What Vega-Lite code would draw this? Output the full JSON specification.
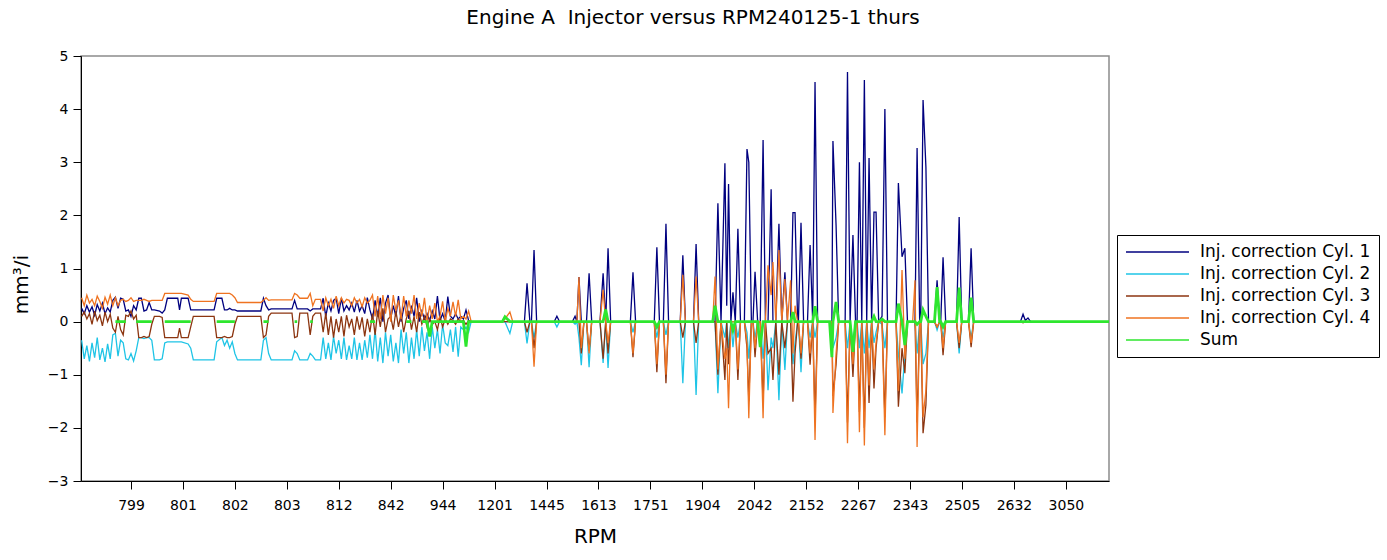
{
  "$schema": "https://vega.github.io/schema/vega-lite/v6.json",
  "width": 1028,
  "height": 425,
  "autosize": {"type": "none"},
  "padding": {"left": 81, "top": 56, "right": 278, "bottom": 79},
  "background": "white",
  "title": {
    "text": "Engine A\u00a0 Injector versus RPM240125-1 thurs",
    "font": "DejaVu Sans",
    "fontSize": 20,
    "fontWeight": "normal",
    "color": "black",
    "anchor": "middle",
    "dx": 98,
    "offset": 21
  },
  "config": {
    "view": {"stroke": "#8c8c8c", "strokeWidth": 1.5},
    "axis": {
      "domainColor": "black",
      "tickColor": "black",
      "labelColor": "black",
      "titleColor": "black",
      "labelFont": "DejaVu Sans",
      "titleFont": "DejaVu Sans",
      "labelFontSize": 14,
      "titleFontSize": 20,
      "titleFontWeight": "normal",
      "grid": false,
      "tickSize": 8
    }
  },
  "data": {
    "values": [
      {"t":1,"a":0.25,"b":-0.35,"c":0.10,"d":0.45,"s":null},
      {"t":2,"a":0.15,"b":-0.70,"c":0.18,"d":0.30,"s":null},
      {"t":3,"a":0.30,"b":-0.45,"c":0.05,"d":0.50,"s":null},
      {"t":4,"a":0.18,"b":-0.75,"c":0.15,"d":0.35,"s":null},
      {"t":5,"a":0.28,"b":-0.40,"c":-0.05,"d":0.42,"s":null},
      {"t":6,"a":0.12,"b":-0.68,"c":0.20,"d":0.30,"s":null},
      {"t":7,"a":0.32,"b":-0.30,"c":0.02,"d":0.48,"s":null},
      {"t":8,"a":0.20,"b":-0.72,"c":0.12,"d":0.38,"s":null},
      {"t":9,"a":0.35,"b":-0.50,"c":-0.08,"d":0.25,"s":null},
      {"t":10,"a":0.15,"b":-0.76,"c":0.18,"d":0.46,"s":null},
      {"t":11,"a":0.26,"b":-0.42,"c":0.00,"d":0.33,"s":null},
      {"t":12,"a":0.18,"b":-0.70,"c":0.14,"d":0.50,"s":null},
      {"t":13,"a":0.40,"b":-0.25,"c":-0.12,"d":0.30,"s":null},
      {"t":14,"a":0.46,"b":-0.22,"c":-0.20,"d":0.45,"s":0},
      {"t":15,"a":0.25,"b":-0.65,"c":0.10,"d":0.30,"s":0},
      {"t":16,"a":0.44,"b":-0.35,"c":-0.15,"d":0.40,"s":0},
      {"t":17,"a":0.42,"b":-0.40,"c":-0.25,"d":0.42,"s":0},
      {"t":18,"a":0.20,"b":-0.70,"c":0.12,"d":0.38,"s":0},
      {"t":19,"a":0.22,"b":-0.72,"c":0.10,"d":0.40,"s":null},
      {"t":20,"a":0.10,"b":-0.60,"c":0.20,"d":0.45,"s":null},
      {"t":21,"a":0.30,"b":-0.74,"c":0.05,"d":0.38,"s":null},
      {"t":22,"a":0.22,"b":-0.55,"c":0.12,"d":0.40,"s":0},
      {"t":23,"a":0.44,"b":-0.30,"c":-0.30,"d":0.40,"s":0},
      {"t":24,"a":0.44,"b":-0.30,"c":-0.30,"d":0.40,"s":0},
      {"t":25,"a":0.20,"b":-0.32,"c":-0.28,"d":0.42,"s":0},
      {"t":26,"a":0.22,"b":-0.30,"c":-0.30,"d":0.40,"s":0},
      {"t":27,"a":0.36,"b":-0.30,"c":-0.28,"d":0.38,"s":0},
      {"t":28,"a":0.22,"b":-0.35,"c":-0.05,"d":0.40,"s":0},
      {"t":29,"a":0.22,"b":-0.72,"c":0.10,"d":0.40,"s":null},
      {"t":31,"a":0.20,"b":-0.72,"c":0.10,"d":0.40,"s":null},
      {"t":32,"a":0.16,"b":-0.70,"c":0.08,"d":0.40,"s":null},
      {"t":33,"a":0.22,"b":-0.40,"c":-0.30,"d":0.53,"s":0},
      {"t":34,"a":0.44,"b":-0.38,"c":-0.30,"d":0.53,"s":0},
      {"t":38,"a":0.44,"b":-0.38,"c":-0.30,"d":0.53,"s":0},
      {"t":38.7,"a":0.22,"b":-0.38,"c":-0.12,"d":0.53,"s":0},
      {"t":39.4,"a":0.44,"b":-0.38,"c":-0.30,"d":0.53,"s":0},
      {"t":42,"a":0.44,"b":-0.42,"c":-0.30,"d":0.50,"s":0},
      {"t":43,"a":0.22,"b":-0.50,"c":-0.10,"d":0.42,"s":0},
      {"t":44,"a":0.22,"b":-0.72,"c":0.10,"d":0.38,"s":null},
      {"t":52,"a":0.22,"b":-0.72,"c":0.10,"d":0.38,"s":null},
      {"t":53,"a":0.44,"b":-0.38,"c":-0.30,"d":0.53,"s":0},
      {"t":55,"a":0.44,"b":-0.30,"c":-0.30,"d":0.53,"s":0},
      {"t":56,"a":0.22,"b":-0.45,"c":-0.28,"d":0.53,"s":0},
      {"t":57,"a":0.22,"b":-0.35,"c":-0.30,"d":0.53,"s":0},
      {"t":58,"a":0.25,"b":-0.50,"c":-0.30,"d":0.53,"s":0},
      {"t":59,"a":0.22,"b":-0.38,"c":-0.28,"d":0.50,"s":0},
      {"t":60,"a":0.22,"b":-0.60,"c":-0.05,"d":0.45,"s":0},
      {"t":61,"a":0.20,"b":-0.72,"c":0.10,"d":0.36,"s":null},
      {"t":70,"a":0.20,"b":-0.72,"c":0.10,"d":0.36,"s":null},
      {"t":71,"a":0.44,"b":-0.35,"c":-0.30,"d":0.40,"s":0},
      {"t":72,"a":0.30,"b":-0.30,"c":-0.25,"d":0.45,"s":0},
      {"t":73,"a":0.22,"b":-0.60,"c":0.10,"d":0.40,"s":0},
      {"t":74,"a":0.24,"b":-0.72,"c":0.16,"d":0.41,"s":null},
      {"t":82,"a":0.24,"b":-0.72,"c":0.16,"d":0.41,"s":null},
      {"t":83,"a":0.40,"b":-0.55,"c":-0.30,"d":0.53,"s":0},
      {"t":84,"a":0.24,"b":-0.60,"c":-0.28,"d":0.50,"s":0},
      {"t":85,"a":0.24,"b":-0.72,"c":0.16,"d":0.44,"s":null},
      {"t":88,"a":0.24,"b":-0.72,"c":0.16,"d":0.44,"s":null},
      {"t":89,"a":0.20,"b":-0.60,"c":-0.25,"d":0.53,"s":0},
      {"t":90,"a":0.24,"b":-0.65,"c":0.10,"d":0.30,"s":0},
      {"t":91,"a":0.24,"b":-0.72,"c":0.16,"d":0.42,"s":null},
      {"t":93,"a":0.24,"b":-0.72,"c":0.16,"d":0.42,"s":null},
      {"t":94,"a":0.44,"b":-0.30,"c":-0.20,"d":0.20,"s":null},
      {"t":95,"a":0.10,"b":-0.70,"c":0.16,"d":0.45,"s":null},
      {"t":96,"a":0.35,"b":-0.40,"c":-0.25,"d":0.30,"s":null},
      {"t":97,"a":0.20,"b":-0.72,"c":0.10,"d":0.42,"s":null},
      {"t":98,"a":0.40,"b":-0.28,"c":-0.30,"d":0.25,"s":null},
      {"t":99,"a":0.44,"b":-0.60,"c":0.05,"d":0.48,"s":null},
      {"t":100,"a":0.15,"b":-0.35,"c":-0.20,"d":0.30,"s":null},
      {"t":101,"a":0.44,"b":-0.70,"c":0.10,"d":0.45,"s":null},
      {"t":102,"a":0.20,"b":-0.30,"c":-0.28,"d":0.35,"s":null},
      {"t":103,"a":0.30,"b":-0.72,"c":0.12,"d":0.42,"s":null},
      {"t":104,"a":0.22,"b":-0.45,"c":-0.10,"d":0.40,"s":null},
      {"t":105,"a":0.35,"b":-0.70,"c":0.05,"d":0.30,"s":null},
      {"t":106,"a":0.18,"b":-0.30,"c":-0.25,"d":0.45,"s":null},
      {"t":107,"a":0.40,"b":-0.72,"c":0.10,"d":0.35,"s":null},
      {"t":108,"a":0.20,"b":-0.40,"c":-0.15,"d":0.42,"s":null},
      {"t":109,"a":0.30,"b":-0.72,"c":0.08,"d":0.28,"s":null},
      {"t":110,"a":0.15,"b":-0.35,"c":-0.28,"d":0.45,"s":null},
      {"t":111,"a":0.45,"b":-0.68,"c":0.05,"d":0.35,"s":null},
      {"t":112,"a":0.22,"b":-0.25,"c":-0.20,"d":0.40,"s":0},
      {"t":113,"a":0.05,"b":-0.70,"c":0.15,"d":0.50,"s":0},
      {"t":114,"a":0.40,"b":-0.15,"c":-0.25,"d":0.10,"s":0},
      {"t":115,"a":0.10,"b":-0.75,"c":0.20,"d":0.48,"s":null},
      {"t":116,"a":0.45,"b":-0.30,"c":-0.10,"d":0.05,"s":null},
      {"t":117,"a":0.00,"b":-0.78,"c":0.25,"d":0.50,"s":null},
      {"t":118,"a":0.35,"b":-0.20,"c":-0.20,"d":0.15,"s":null},
      {"t":119,"a":0.50,"b":-0.65,"c":0.05,"d":0.45,"s":null},
      {"t":120,"a":0.05,"b":-0.25,"c":0.10,"d":0.00,"s":null},
      {"t":121,"a":0.30,"b":-0.75,"c":-0.15,"d":0.50,"s":null},
      {"t":122,"a":0.10,"b":-0.40,"c":0.20,"d":0.20,"s":null},
      {"t":123,"a":0.48,"b":-0.78,"c":-0.10,"d":0.40,"s":null},
      {"t":124,"a":0.00,"b":-0.15,"c":0.15,"d":0.05,"s":null},
      {"t":125,"a":0.25,"b":-0.60,"c":-0.20,"d":0.48,"s":null},
      {"t":126,"a":0.40,"b":-0.20,"c":0.05,"d":0.10,"s":0},
      {"t":127,"a":0.05,"b":-0.78,"c":0.20,"d":0.40,"s":0},
      {"t":128,"a":0.30,"b":-0.30,"c":-0.15,"d":0.15,"s":0},
      {"t":129,"a":0.10,"b":-0.70,"c":0.10,"d":0.50,"s":null},
      {"t":130,"a":0.45,"b":-0.15,"c":-0.20,"d":0.05,"s":null},
      {"t":131,"a":0.00,"b":-0.65,"c":0.18,"d":0.35,"s":null},
      {"t":132,"a":0.20,"b":-0.10,"c":-0.05,"d":0.10,"s":0},
      {"t":133,"a":0.05,"b":-0.55,"c":0.10,"d":0.45,"s":0},
      {"t":134,"a":0.15,"b":-0.20,"c":-0.10,"d":0.00,"s":0},
      {"t":135,"a":0.02,"b":-0.70,"c":0.05,"d":0.30,"s":-0.28},
      {"t":136,"a":0.20,"b":-0.10,"c":-0.05,"d":0.05,"s":0},
      {"t":137,"a":0.05,"b":-0.50,"c":0.00,"d":0.35,"s":0},
      {"t":138,"a":0.48,"b":-0.15,"c":-0.15,"d":0.00,"s":0},
      {"t":139,"a":0.02,"b":-0.60,"c":0.10,"d":0.10,"s":0},
      {"t":140,"a":0.15,"b":-0.05,"c":-0.10,"d":0.38,"s":0},
      {"t":141,"a":0.00,"b":-0.40,"c":0.05,"d":0.00,"s":0},
      {"t":142,"a":0.47,"b":-0.45,"c":-0.05,"d":0.25,"s":0},
      {"t":143,"a":0.10,"b":-0.15,"c":0.05,"d":0.10,"s":0},
      {"t":144,"a":0.05,"b":-0.57,"c":0.02,"d":0.37,"s":0},
      {"t":145,"a":0.15,"b":-0.10,"c":-0.05,"d":0.10,"s":0},
      {"t":146,"a":0.05,"b":-0.66,"c":0.05,"d":0.41,"s":0},
      {"t":147,"a":0.10,"b":-0.10,"c":0.00,"d":0.05,"s":0},
      {"t":148,"a":0.05,"b":-0.15,"c":0.02,"d":0.10,"s":0},
      {"t":149,"a":0.22,"b":-0.10,"c":-0.05,"d":0.05,"s":-0.47},
      {"t":150,"a":0.02,"b":-0.20,"c":0.02,"d":0.20,"s":0},
      {"t":151,"a":0,"b":0,"c":0,"d":0,"s":0},
      {"t":163,"a":0,"b":0,"c":0,"d":0,"s":0},
      {"t":164,"a":0,"b":0,"c":0,"d":0.05,"s":0.09},
      {"t":165.9,"a":0,"b":-0.22,"c":0,"d":0.18,"s":0},
      {"t":167,"a":0,"b":0,"c":0,"d":0,"s":0},
      {"t":171.5,"a":0,"b":0,"c":0,"d":0,"s":0},
      {"t":172.5,"a":0.72,"b":-0.41,"c":-0.2,"d":0,"s":0},
      {"t":173.6,"a":0,"b":0,"c":0,"d":0,"s":0},
      {"t":174.2,"a":0,"b":0,"c":0,"d":0,"s":0},
      {"t":175.2,"a":1.35,"b":-0.3,"c":-0.5,"d":-0.85,"s":0},
      {"t":176.2,"a":0,"b":0,"c":0,"d":0,"s":0},
      {"t":183,"a":0,"b":0,"c":0,"d":0,"s":0},
      {"t":184,"a":0.1,"b":-0.1,"c":0,"d":0,"s":0},
      {"t":185,"a":0,"b":0,"c":0,"d":0,"s":0},
      {"t":190,"a":0,"b":0,"c":0,"d":0,"s":0},
      {"t":191,"a":0.1,"b":-0.05,"c":0,"d":0,"s":0},
      {"t":191.7,"a":0,"b":0,"c":0,"d":0,"s":0},
      {"t":192.5,"a":0.84,"b":-0.3,"c":0,"d":0.84,"s":0},
      {"t":193.4,"a":0,"b":-0.82,"c":-0.6,"d":-0.5,"s":0},
      {"t":194.4,"a":0,"b":0,"c":0,"d":0,"s":0},
      {"t":195.4,"a":0,"b":0,"c":0,"d":0,"s":0},
      {"t":196.4,"a":0.91,"b":-0.86,"c":-0.55,"d":-0.6,"s":0},
      {"t":197.4,"a":0,"b":0,"c":0,"d":0,"s":0},
      {"t":200.6,"a":0,"b":0,"c":0,"d":0,"s":0},
      {"t":201.8,"a":0.91,"b":-0.78,"c":-0.7,"d":0.6,"s":0},
      {"t":202.8,"a":0,"b":0,"c":0,"d":0,"s":0.23},
      {"t":203.7,"a":1.38,"b":-0.87,"c":-0.6,"d":-0.4,"s":0},
      {"t":204.7,"a":0,"b":0,"c":0,"d":0,"s":0},
      {"t":212.3,"a":0,"b":0,"c":0,"d":0,"s":0},
      {"t":213.3,"a":0.93,"b":-0.2,"c":-0.67,"d":-0.6,"s":0},
      {"t":214.3,"a":0,"b":0,"c":0,"d":0,"s":0},
      {"t":221.5,"a":0,"b":0,"c":0,"d":0,"s":0},
      {"t":222.5,"a":1.4,"b":-0.3,"c":-0.95,"d":-0.8,"s":-0.1},
      {"t":223.5,"a":0,"b":0,"c":0,"d":0,"s":0},
      {"t":225,"a":0,"b":0,"c":0,"d":0,"s":0},
      {"t":226,"a":1.84,"b":-0.25,"c":-1.16,"d":-1.0,"s":0},
      {"t":227,"a":0,"b":0,"c":0,"d":0,"s":0},
      {"t":231.5,"a":0,"b":0,"c":0,"d":0,"s":0},
      {"t":232.5,"a":1.25,"b":-1.16,"c":-0.3,"d":0.88,"s":0},
      {"t":233.5,"a":0,"b":0,"c":0,"d":0,"s":0},
      {"t":236.6,"a":0,"b":0,"c":0,"d":0,"s":0},
      {"t":237.6,"a":1.46,"b":-1.38,"c":-0.4,"d":0.85,"s":0},
      {"t":238.6,"a":0,"b":0,"c":0,"d":0,"s":0},
      {"t":244,"a":0,"b":0,"c":0,"d":0,"s":0},
      {"t":244.9,"a":0,"b":0,"c":0,"d":0.85,"s":0.3},
      {"t":246,"a":2.23,"b":-1.35,"c":-1.0,"d":-0.9,"s":0},
      {"t":247.2,"a":0,"b":0,"c":0,"d":0,"s":0},
      {"t":248.7,"a":2.98,"b":-0.3,"c":-1.1,"d":-0.7,"s":0},
      {"t":249.4,"a":0.3,"b":0,"c":0,"d":-0.5,"s":0},
      {"t":250.1,"a":2.59,"b":-0.5,"c":-0.8,"d":-1.63,"s":0},
      {"t":251,"a":0,"b":0,"c":0,"d":0,"s":0},
      {"t":251.8,"a":0.55,"b":-0.48,"c":0,"d":0,"s":-0.16},
      {"t":252.7,"a":0,"b":0,"c":0,"d":0,"s":0},
      {"t":253.7,"a":1.75,"b":-0.3,"c":-1.1,"d":-0.9,"s":0},
      {"t":254.7,"a":0,"b":0,"c":0,"d":0,"s":0},
      {"t":256.2,"a":0,"b":0,"c":0,"d":0,"s":0},
      {"t":257.2,"a":3.25,"b":-0.2,"c":-0.5,"d":-0.4,"s":0},
      {"t":257.9,"a":3.0,"b":-0.7,"c":-1.5,"d":-1.82,"s":0},
      {"t":258.9,"a":0,"b":0,"c":0,"d":0,"s":0},
      {"t":259.5,"a":0,"b":0,"c":0,"d":0,"s":0},
      {"t":260.3,"a":0.94,"b":-0.3,"c":-0.67,"d":-0.5,"s":0},
      {"t":261.3,"a":0,"b":0,"c":0,"d":0,"s":0},
      {"t":262.3,"a":0,"b":0,"c":0,"d":0,"s":-0.48},
      {"t":263.4,"a":3.42,"b":-0.7,"c":-1.5,"d":-1.82,"s":0},
      {"t":264.3,"a":0,"b":0,"c":0,"d":0,"s":0},
      {"t":265.3,"a":0,"b":-1.29,"c":-0.6,"d":1.06,"s":0},
      {"t":266.5,"a":2.49,"b":-0.3,"c":-0.5,"d":0.5,"s":0},
      {"t":267.2,"a":0,"b":-0.5,"c":-1.1,"d":1.12,"s":0},
      {"t":268.3,"a":0,"b":0,"c":0,"d":0,"s":0},
      {"t":269.5,"a":1.84,"b":-1.48,"c":-1.0,"d":1.35,"s":0},
      {"t":270.6,"a":0,"b":0,"c":0,"d":0,"s":0},
      {"t":271.8,"a":0.93,"b":-0.91,"c":-0.5,"d":0.8,"s":0},
      {"t":272.8,"a":0,"b":0,"c":0,"d":0,"s":0},
      {"t":274,"a":0,"b":0,"c":0,"d":0.78,"s":0},
      {"t":274.9,"a":2.05,"b":-0.8,"c":-1.51,"d":-0.6,"s":0.18},
      {"t":275.7,"a":2.05,"b":-0.4,"c":-0.6,"d":0.3,"s":0},
      {"t":276.7,"a":0,"b":0,"c":0,"d":0,"s":0},
      {"t":277,"a":0,"b":0,"c":0,"d":0,"s":0},
      {"t":278,"a":1.86,"b":-0.95,"c":-0.7,"d":-0.6,"s":0},
      {"t":279,"a":0,"b":0,"c":0,"d":0,"s":0},
      {"t":280.5,"a":0,"b":0,"c":0,"d":0,"s":0},
      {"t":281.5,"a":1.44,"b":-0.3,"c":-0.81,"d":-0.6,"s":0},
      {"t":282.5,"a":0,"b":0,"c":0,"d":0,"s":0},
      {"t":283.4,"a":4.51,"b":-0.3,"c":-1.8,"d":-2.23,"s":0.29},
      {"t":284.4,"a":0,"b":0,"c":0,"d":0,"s":0},
      {"t":289,"a":0,"b":0,"c":0,"d":0,"s":0},
      {"t":289.9,"a":0,"b":0,"c":0,"d":0,"s":-0.67},
      {"t":290.3,"a":3.4,"b":-0.5,"c":-1.4,"d":-1.72,"s":0},
      {"t":291.5,"a":1.82,"b":-0.3,"c":-0.81,"d":-0.6,"s":0.37},
      {"t":292.5,"a":0,"b":0,"c":0,"d":0,"s":0},
      {"t":295,"a":0,"b":0,"c":0,"d":0,"s":0},
      {"t":295.9,"a":4.7,"b":-0.5,"c":-1.9,"d":-2.29,"s":0},
      {"t":296.9,"a":0,"b":0,"c":0,"d":0,"s":0},
      {"t":298,"a":1.63,"b":-0.4,"c":-1.04,"d":-0.8,"s":-0.57},
      {"t":299,"a":0,"b":0,"c":0,"d":0,"s":0},
      {"t":299.6,"a":0,"b":0,"c":0,"d":0,"s":0},
      {"t":300.5,"a":3.0,"b":-0.5,"c":-1.7,"d":-2.08,"s":0},
      {"t":301.4,"a":0,"b":0,"c":0,"d":0,"s":0},
      {"t":302.4,"a":4.55,"b":-0.6,"c":-2.0,"d":-2.33,"s":0},
      {"t":303.3,"a":0,"b":0,"c":0,"d":0,"s":0},
      {"t":304.2,"a":3.08,"b":-0.5,"c":-1.53,"d":-1.2,"s":0},
      {"t":305.2,"a":0,"b":0,"c":0,"d":0,"s":0},
      {"t":306.1,"a":2.06,"b":-0.4,"c":-1.26,"d":-0.9,"s":0.1},
      {"t":306.9,"a":2.06,"b":-0.2,"c":-0.5,"d":-0.4,"s":0},
      {"t":307.9,"a":0,"b":0,"c":0,"d":0,"s":0},
      {"t":309.2,"a":0.1,"b":-0.05,"c":0,"d":0,"s":0.05},
      {"t":310.3,"a":4.0,"b":-0.5,"c":-1.8,"d":-2.14,"s":0},
      {"t":311.3,"a":0,"b":0,"c":0,"d":0,"s":0},
      {"t":314.6,"a":0,"b":0,"c":0,"d":0,"s":0},
      {"t":315.5,"a":2.61,"b":-0.6,"c":-1.6,"d":-1.3,"s":0.34},
      {"t":316.9,"a":1.22,"b":-1.35,"c":-0.5,"d":0.97,"s":0},
      {"t":318,"a":1.38,"b":-0.6,"c":-0.97,"d":-0.7,"s":-0.44},
      {"t":319,"a":0,"b":0,"c":0,"d":0,"s":0},
      {"t":321,"a":0,"b":0,"c":0,"d":0,"s":0},
      {"t":321.9,"a":0,"b":0,"c":0,"d":0.78,"s":0},
      {"t":322.7,"a":3.27,"b":-0.6,"c":-1.9,"d":-2.36,"s":-0.05},
      {"t":323.7,"a":0,"b":0,"c":0,"d":0,"s":0},
      {"t":324.1,"a":0,"b":0,"c":0,"d":0,"s":0},
      {"t":325,"a":4.17,"b":-0.8,"c":-2.1,"d":-1.8,"s":0.22},
      {"t":326.1,"a":2.91,"b":-0.6,"c":-1.57,"d":-1.3,"s":0.1},
      {"t":327.1,"a":0,"b":0,"c":0,"d":0,"s":0},
      {"t":329.4,"a":0,"b":0,"c":0,"d":0,"s":0},
      {"t":330.4,"a":0.78,"b":-0.16,"c":-0.1,"d":-0.1,"s":0.65},
      {"t":331.4,"a":0,"b":0,"c":0,"d":0,"s":0},
      {"t":331.8,"a":0,"b":0,"c":0,"d":0,"s":0},
      {"t":332.7,"a":1.21,"b":-0.3,"c":-0.63,"d":-0.5,"s":-0.1},
      {"t":333.7,"a":0,"b":0,"c":0,"d":0,"s":0},
      {"t":337.9,"a":0,"b":0,"c":0,"d":0,"s":0},
      {"t":338.9,"a":1.97,"b":-0.6,"c":-0.5,"d":-0.4,"s":0.64},
      {"t":339.9,"a":0,"b":0,"c":0,"d":0,"s":0},
      {"t":342.5,"a":0,"b":0,"c":0,"d":0,"s":0},
      {"t":343.5,"a":1.38,"b":-0.3,"c":-0.48,"d":-0.4,"s":0.45},
      {"t":344.5,"a":0,"b":0,"c":0,"d":0,"s":0},
      {"t":362.5,"a":0,"b":0,"c":0,"d":0,"s":0},
      {"t":363.5,"a":0.14,"b":0,"c":-0.02,"d":0,"s":0},
      {"t":364.4,"a":0.02,"b":0,"c":0,"d":0,"s":0},
      {"t":365.4,"a":0.07,"b":0,"c":0,"d":0,"s":0},
      {"t":366.4,"a":0,"b":0,"c":0,"d":0,"s":0},
      {"t":396.6,"a":0,"b":0,"c":0,"d":0,"s":0}
    ]
  },
  "transform": [{"fold": ["a", "b", "c", "d", "s"], "as": ["k", "v"]}],
  "mark": {"type": "line", "invalid": "break-paths-show-domains", "clip": true},
  "encoding": {
    "x": {
      "field": "t",
      "type": "quantitative",
      "scale": {"domain": [0.75, 396.6], "nice": false, "zero": false},
      "axis": {
        "values": [20, 40, 60, 80, 100, 120, 140, 160, 180, 200, 220, 240, 260, 280, 300, 320, 340, 360, 380],
        "labelExpr": "['799','801','802','803','812','842','944','1201','1445','1613','1751','1904','2042','2152','2267','2343','2505','2632','3050'][datum.value / 20 - 1]",
        "labelFlush": false,
        "labelPadding": 9,
        "title": "RPM",
        "titlePadding": 14
      }
    },
    "y": {
      "field": "v",
      "type": "quantitative",
      "scale": {"domain": [-3, 5], "nice": false, "zero": false},
      "axis": {
        "values": [-3, -2, -1, 0, 1, 2, 3, 4, 5],
        "labelPadding": 5,
        "title": "mm³/i",
        "titlePadding": 16,
        "titleY": 228
      }
    },
    "color": {
      "field": "k",
      "type": "nominal",
      "scale": {
        "domain": ["a", "b", "c", "d", "s"],
        "range": ["#00007f", "#1ec4e6", "#8c3510", "#ef7321", "#2ee62e"]
      },
      "legend": {
        "orient": "none",
        "legendX": 1036,
        "legendY": 179,
        "title": null,
        "strokeColor": "black",
        "fillColor": "white",
        "padding": 8,
        "symbolType": "stroke",
        "symbolSize": 3969,
        "symbolStrokeWidth": 1.3,
        "clipHeight": 18,
        "rowPadding": 4,
        "labelFont": "DejaVu Sans",
        "labelFontSize": 17,
        "labelLimit": 400,
        "labelColor": "black",
        "labelOffset": 10,
        "labelExpr": "datum.label == 'a' ? 'Inj. correction Cyl. 1' : datum.label == 'b' ? 'Inj. correction Cyl. 2' : datum.label == 'c' ? 'Inj. correction Cyl. 3' : datum.label == 'd' ? 'Inj. correction Cyl. 4' : 'Sum'"
      }
    },
    "strokeWidth": {"condition": {"test": "datum.k == 's'", "value": 2.8}, "value": 1.3}
  }
}
